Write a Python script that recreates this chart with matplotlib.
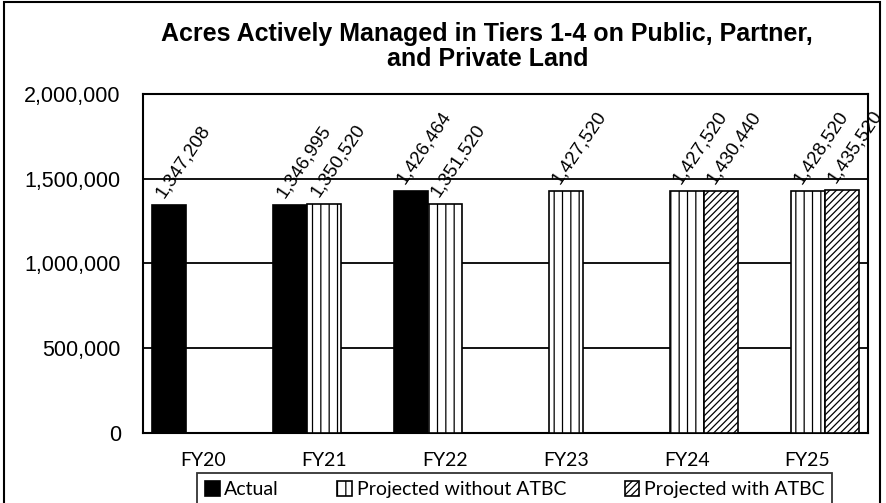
import matplotlib.pyplot as plt
import matplotlib.patches as mpatches
from matplotlib.ticker import FuncFormatter
import numpy as np

# data
years = ["FY20", "FY21", "FY22", "FY23", "FY24", "FY25"]
actual = [1347208, 1346995, 1426464, np.nan, np.nan, np.nan]
proj_without = [np.nan, 1350520, 1351520, 1427520, 1427520, 1428520]
proj_with = [np.nan, np.nan, np.nan, np.nan, 1430440, 1435520]
y_ticks = [0, 500000, 1000000, 1500000, 2000000]

plt.rcParams['hatch.linewidth'] = 0.9
plt.rcParams['hatch.color'] = 'black'

fig = plt.figure(figsize=(8.86, 5.03), dpi=100)
ax = fig.add_axes([0.1614, 0.1392, 0.8183, 0.6739])

x = np.arange(len(years))
w = 0.2815

series = [
    (actual, -w, dict(color='black', edgecolor='black'), "Actual"),
    (proj_without, 0, dict(color='white', edgecolor='black', hatch='||'), "Projected without ATBC"),
    (proj_with, w, dict(color='white', edgecolor='black', hatch='/////'), "Projected with ATBC"),
]

for vals, off, style, name in series:
    ax.bar(x + off, vals, width=w, linewidth=1.2, label=name, zorder=3, **style)
    for xi, v in zip(x + off, vals):
        if np.isnan(v):
            continue
        ax.annotate(f"{int(v):,}", (xi, v), xytext=(-2, 3), textcoords='offset points',
                    rotation=56, rotation_mode='anchor', ha='left', va='bottom',
                    fontsize=13.5, family='Liberation Sans', zorder=5)

ax.set_xlim(-0.5, len(years) - 0.5)
ax.set_ylim(0, 2000000)
ax.set_yticks(y_ticks)
ax.yaxis.set_major_formatter(FuncFormatter(lambda v, p: f"{int(v):,}"))
ax.set_xticks(x)
ax.set_xticklabels(years, family='Lato', fontsize=14)
for lab in ax.get_yticklabels():
    lab.set_family('Liberation Sans')
    lab.set_fontsize(15.5)
ax.tick_params(axis='y', length=0, pad=16)
ax.tick_params(axis='x', length=0, pad=14)
ax.grid(axis='y', color='black', linewidth=1.3, zorder=1)
for s in ax.spines.values():
    s.set_linewidth(1.5)
    s.set_color('black')

fig.text(0.55, 0.9075, "Acres Actively Managed in Tiers 1-4 on Public, Partner,\nand Private Land",
         ha='center', va='center', fontsize=18, fontweight='bold',
         family='Liberation Sans', linespacing=1.1)

# outer chart border
fig.patches.append(mpatches.Rectangle((0.004, -0.02), 0.989, 1.016, transform=fig.transFigure,
                                      fill=False, edgecolor='black', linewidth=1.5))

leg = fig.legend(loc='lower center', bbox_to_anchor=(0.581, -0.006), ncol=3,
                 prop={'family': 'Lato', 'size': 14}, frameon=True, fancybox=False,
                 handlelength=0.75, handleheight=0.75, handletextpad=0.25,
                 columnspacing=3.0, borderpad=0.4, borderaxespad=0)
leg.get_frame().set_edgecolor('black')
leg.get_frame().set_linewidth(1.3)

fig.savefig("out.png", dpi=100)
